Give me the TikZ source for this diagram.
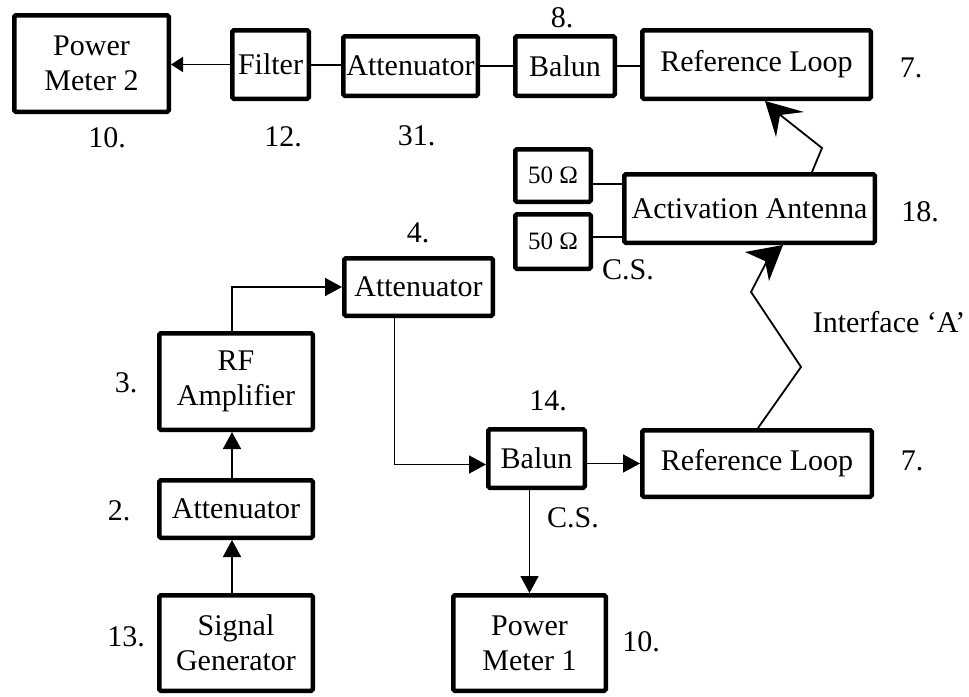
\documentclass[tikz,border=0pt]{standalone}
\usepackage{fontspec}
\setmainfont{Liberation Serif}
\usetikzlibrary{arrows.meta,calc}
\begin{document}
\begin{tikzpicture}[x=1pt,y=-1pt,
  every node/.style={font=\fontsize{30}{35}\selectfont, inner sep=0pt},
  blk/.style={draw, line width=4.5pt, rounded corners=1.5pt, align=center},
  conn/.style={line width=2pt},
  arr/.style={line width=1.6pt, -{Triangle[length=17pt,width=18pt]}},
  arrs/.style={line width=1.8pt, -{Triangle[length=12pt,width=15pt]}},
  zz/.style={line width=1.8pt, line join=miter},
  headfill/.style={fill=black}]
\useasboundingbox (0,0) rectangle (969,696);

% boxes
\node[blk, minimum width=154.5pt, minimum height=96.5pt] (PM2) at (91.5,63.5) {Power\\Meter 2};
\node[blk, minimum width=76.5pt, minimum height=68.5pt] (Filter) at (270.5,64.5) {Filter};
\node[blk, minimum width=134.5pt, minimum height=59.5pt] (Att31) at (410.5,66) {Attenuator};
\node[blk, minimum width=99.5pt, minimum height=59.5pt] (Balun8) at (565,66) {Balun};
\node[blk, minimum width=228.5pt, minimum height=68.5pt] (RLt) at (756.5,64.5) {Reference Loop};
\node[blk, minimum width=75.5pt, minimum height=52.5pt, font=\fontsize{25}{30}\selectfont] (R1) at (553,175.5) {50 Ω};
\node[blk, minimum width=75.5pt, minimum height=54.5pt, font=\fontsize{25}{30}\selectfont] (R2) at (553,241.5) {50 Ω};
\node[blk, minimum width=250.5pt, minimum height=68.5pt] (AA) at (749.5,208.5) {Activation Antenna};
\node[blk, minimum width=148.5pt, minimum height=57.5pt] (Att4) at (418.5,287) {Attenuator};
\node[blk, minimum width=153.5pt, minimum height=96.5pt] (RF) at (236,381.5) {RF\\Amplifier};
\node[blk, minimum width=153.5pt, minimum height=57.5pt] (Att2) at (236,509) {Attenuator};
\node[blk, minimum width=153.5pt, minimum height=95.5pt] (SG) at (236,643) {Signal\\Generator};
\node[blk, minimum width=96.5pt, minimum height=58.5pt] (Balun14) at (536.5,458.5) {Balun};
\node[blk, minimum width=229.5pt, minimum height=66.5pt] (RLb) at (757,463.5) {Reference Loop};
\node[blk, minimum width=152.5pt, minimum height=95.5pt] (PM1) at (529.5,643) {Power\\Meter 1};

% labels
\node (l10a) at (107,138) {10.};
\node (l12) at (283,137) {12.};
\node (l31) at (416.5,136) {31.};
\node (l8) at (562,17.5) {8.};
\node (l7a) at (911,68) {7.};
\node (l18) at (920,212) {18.};
\node (lcsa) at (628,270) {C.S.};
\node (l4) at (418,233) {4.};
\node (lif) at (889,322) {Interface ‘A’};
\node (l3) at (126,383) {3.};
\node (l14) at (548,401) {14.};
\node (l7b) at (912,461) {7.};
\node (l2) at (119,511) {2.};
\node (lcsb) at (573,518) {C.S.};
\node (l13) at (126,637) {13.};
\node (l10b) at (641,642) {10.};

% helper coordinates
\coordinate (y184) at (0,184);
\coordinate (y237) at (0,237);
\coordinate (zb) at (758,0);
\coordinate (z1) at (801,367);
\coordinate (z2) at (751,292);
\coordinate (zt) at (783,0);
\coordinate (tb) at (812,0);
\coordinate (t1) at (822,148);
\coordinate (tt) at (765,0);
\coordinate (tipB) at (AA.south -| zt);
\coordinate (tipT) at (RLt.south -| tt);

% top row
\draw[arrs] (Filter.west) -- (Filter.west -| PM2.east);
\draw[conn] (Filter.east) -- (Filter.east -| Att31.west);
\draw[conn] (Att31.east) -- (Att31.east -| Balun8.west);
\draw[conn] (Balun8.east) -- (Balun8.east -| RLt.west);

% 50 ohm
\draw[conn] (R1.east |- y184) -- (AA.west |- y184);
\draw[conn] (R2.east |- y237) -- (AA.west |- y237);

% left column
\draw[arr] ([xshift=-4pt]SG.north) -- ([xshift=-4pt]Att2.south);
\draw[arr] ([xshift=-4pt]Att2.north) -- ([xshift=-4pt]RF.south);
\draw[arr] ([xshift=-4pt]RF.north) |- (Att4.west);
\draw[arr] ([xshift=-24pt]Att4.south) |- ([yshift=-6pt]Balun14.west);
\draw[arr] ([yshift=-5pt]Balun14.east) -- ([yshift=-5pt]Balun14.east -| RLb.west);
\draw[arr] (Balun14.south -| PM1.north) -- (PM1.north);

% zigzags with barbed heads
\draw[zz] (RLb.north -| zb) -- (z1) -- (z2) -- ($(tipB)+(-16,16)$);
\fill[headfill] (tipB) -- ($(tipB)+(-38,7)$) -- ($(tipB)+(-18,16)$) -- ($(tipB)+(-14,36)$) -- cycle;
\draw[zz] (AA.north -| tb) -- (t1) -- ($(tipT)+(14,13)$);
\fill[headfill] (tipT) -- ($(tipT)+(39,11)$) -- ($(tipT)+(15,14)$) -- ($(tipT)+(11,36)$) -- cycle;
\end{tikzpicture}
\end{document}
